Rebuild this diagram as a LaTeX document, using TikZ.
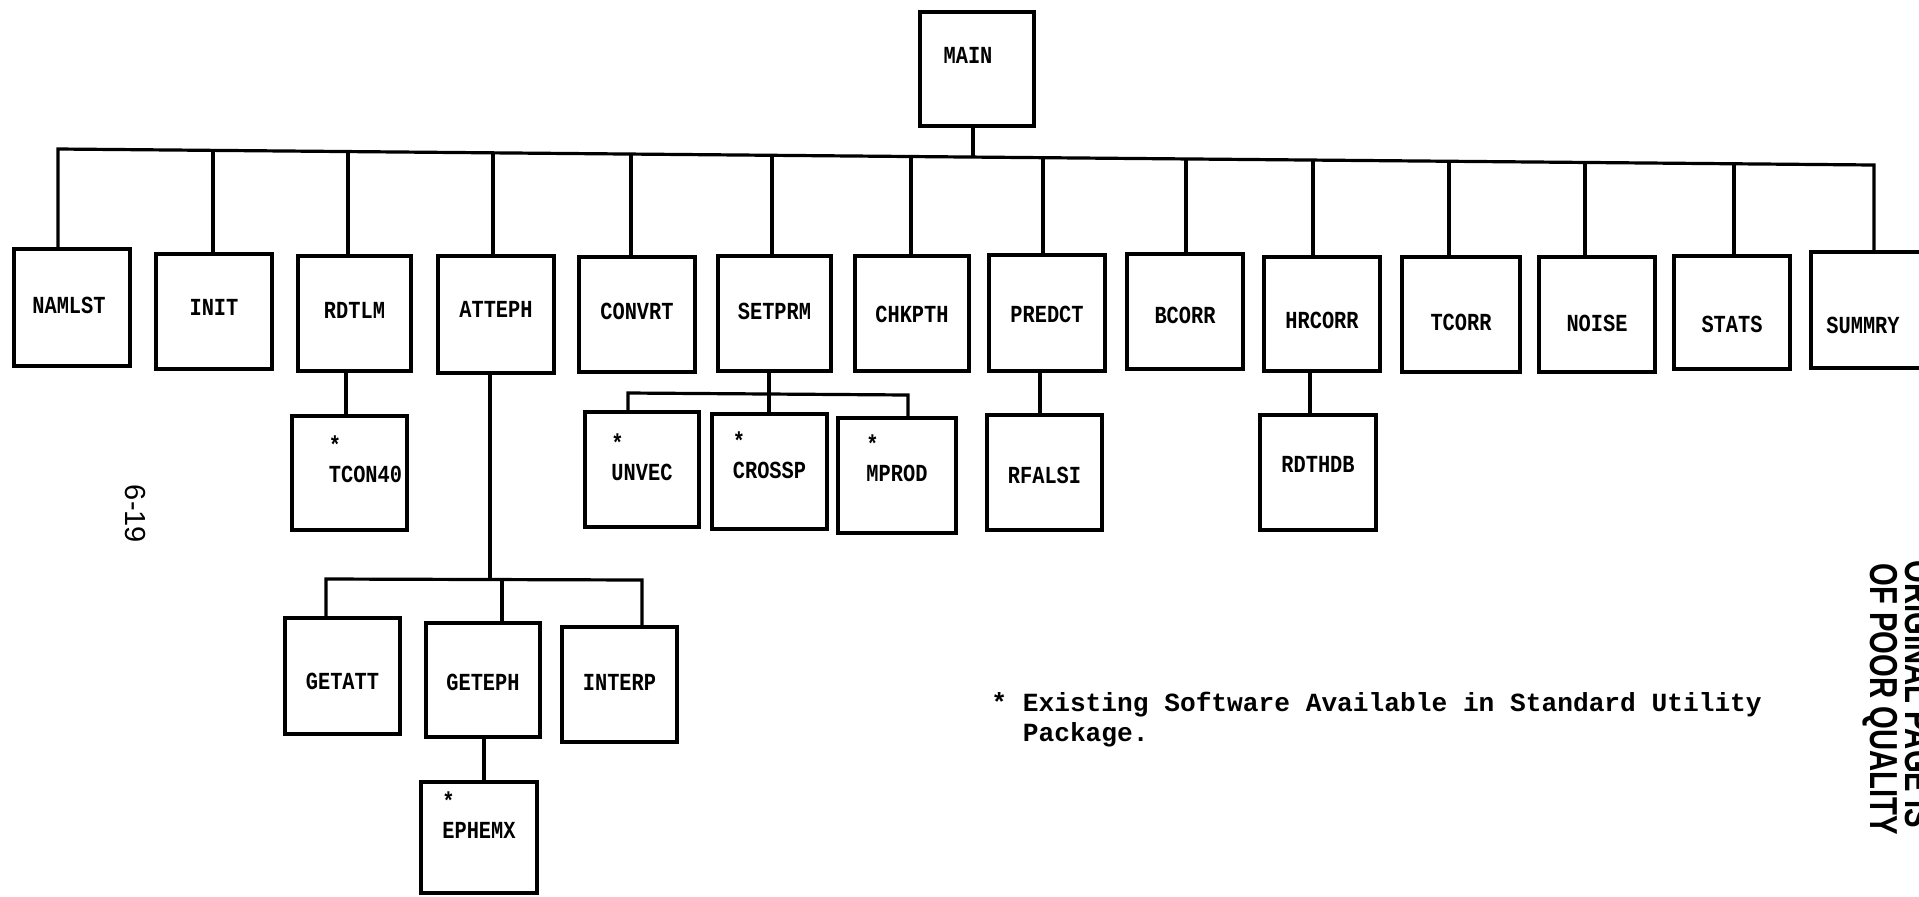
\documentclass[tikz,border=0pt]{standalone}
\usepackage{fontspec}
\usetikzlibrary{fit,calc}
\newfontfamily\lblfont{Liberation Mono}[FakeStretch=0.83]
\newfontfamily\notefont{Liberation Mono}
\newfontfamily\stampfont{Liberation Sans}[FakeStretch=0.75]
\newfontfamily\pgnumfont{Liberation Sans}
% shift a label inside its box: #1 right, #2 up
\newcommand{\mv}[3]{\raisebox{#2}[\height][\depth]{\hspace*{#1}#3\hspace*{-#1}}}
% label with a star above it
\newcommand{\starlbl}[1]{\vbox{\baselineskip=14.5pt\hbox{*}\hbox{#1}}}
\begin{document}
\begin{tikzpicture}[x=0.5pt,y=-0.5pt,
  box/.style={draw, line width=1.8pt, inner sep=0pt,
    font={\lblfont\bfseries\fontsize{12.25}{12}\selectfont}},
  conn/.style={line width=1.6pt},
  notetext/.style={font={\notefont\bfseries\fontsize{13.1}{15}\selectfont}, inner sep=0pt},
  stamptext/.style={font={\stampfont\bfseries\fontsize{19.5}{20}\selectfont}, rotate=-90, anchor=base west, inner sep=0pt},
  pagenum/.style={font={\pgnumfont\fontsize{14.5}{15}\selectfont}, rotate=-90, inner sep=0pt}]
\useasboundingbox (0,0) rectangle (1919,896);

% top
\node[box, fit={(920,12)(1034,126)}] (MAIN) {\mv{-4.5pt}{3pt}{MAIN}};

% first level
\node[box, fit={(14,249)(130,366)}] (NAMLST) {\mv{-1.5pt}{-3pt}{NAMLST}};
\node[box, fit={(156,254)(272,369)}] (INIT) {\mv{0pt}{-2pt}{INIT}};
\node[box, fit={(298,256)(411,371)}] (RDTLM) {\mv{0pt}{-2.5pt}{RDTLM}};
\node[box, fit={(438,256)(554,373)}] (ATTEPH) {\mv{0pt}{-1.5pt}{ATTEPH}};
\node[box, fit={(579,257)(695,372)}] (CONVRT) {\mv{0pt}{-2.5pt}{CONVRT}};
\node[box, fit={(718,256)(831,371)}] (SETPRM) {\mv{0pt}{-3pt}{SETPRM}};
\node[box, fit={(855,256)(969,371)}] (CHKPTH) {\mv{0pt}{-4.5pt}{CHKPTH}};
\node[box, fit={(989,255)(1105,371)}] (PREDCT) {\mv{0pt}{-5pt}{PREDCT}};
\node[box, fit={(1127,254)(1243,369)}] (BCORR) {\mv{0pt}{-6pt}{BCORR}};
\node[box, fit={(1264,257)(1380,371)}] (HRCORR) {\mv{0pt}{-7.5pt}{HRCORR}};
\node[box, fit={(1402,257)(1520,372)}] (TCORR) {\mv{0pt}{-8pt}{TCORR}};
\node[box, fit={(1539,257)(1655,372)}] (NOISE) {\mv{0pt}{-8.5pt}{NOISE}};
\node[box, fit={(1674,256)(1790,369)}] (STATS) {\mv{0pt}{-10pt}{STATS}};
\node[box, fit={(1811,252)(1927,368)}] (SUMMRY) {\mv{-3pt}{-12pt}{SUMMRY}};

% second level
\node[box, fit={(292,416)(407,530)}] (TCON40) {\mv{8pt}{-5pt}{\starlbl{TCON40}}};
\node[box, fit={(585,412)(699,527)}] (UNVEC) {\mv{0pt}{-5.5pt}{\starlbl{UNVEC}}};
\node[box, fit={(712,414)(827,529)}] (CROSSP) {\mv{0pt}{-3.7pt}{\starlbl{CROSSP}}};
\node[box, fit={(838,418)(956,533)}] (MPROD) {\mv{0pt}{-3pt}{\starlbl{MPROD}}};
\node[box, fit={(987,415)(1102,530)}] (RFALSI) {\mv{0pt}{-5.5pt}{RFALSI}};
\node[box, fit={(1260,415)(1376,530)}] (RDTHDB) {RDTHDB};

% third level
\node[box, fit={(285,618)(400,734)}] (GETATT) {\mv{0pt}{-7pt}{GETATT}};
\node[box, fit={(426,623)(540,737)}] (GETEPH) {\mv{0pt}{-5.5pt}{GETEPH}};
\node[box, fit={(562,627)(677,742)}] (INTERP) {\mv{0pt}{-3pt}{INTERP}};
\node[box, fit={(421,782)(537,893)}] (EPHEMX) {\mv{0pt}{-0.5pt}{\starlbl{EPHEMX}}};

% main bus
\coordinate (bL) at (58,149);
\coordinate (bR) at (1874,165);
\coordinate (bMAIN) at (973,157.1);
\coordinate (bINIT) at (213,150.4);
\coordinate (bRDTLM) at (348,151.6);
\coordinate (bATTEPH) at (493,152.8);
\coordinate (bCONVRT) at (631,154.0);
\coordinate (bSETPRM) at (772,155.3);
\coordinate (bCHKPTH) at (911,156.5);
\coordinate (bPREDCT) at (1043,157.7);
\coordinate (bBCORR) at (1186,158.9);
\coordinate (bHRCORR) at (1313,160.1);
\coordinate (bTCORR) at (1449,161.3);
\coordinate (bNOISE) at (1585,162.5);
\coordinate (bSTATS) at (1734,163.8);

\draw[conn] (NAMLST.north -| bL) -- (bL) -- (bR) -- (SUMMRY.north -| bR);
\draw[conn] (MAIN.south -| bMAIN) -- (bMAIN);
\foreach \n in {INIT,RDTLM,ATTEPH,CONVRT,SETPRM,CHKPTH,PREDCT,BCORR,HRCORR,TCORR,NOISE,STATS}
  \draw[conn] (b\n) -- (\n.north -| b\n);

% second-level connectors
\coordinate (kR) at (346,0);
\draw[conn] (RDTLM.south -| kR) -- (TCON40.north -| kR);
\coordinate (kS) at (769,0);
\draw[conn] (SETPRM.south -| kS) -- (CROSSP.north -| kS);
\coordinate (sU) at (628,393);
\coordinate (sM) at (908,395);
\draw[conn] (UNVEC.north -| sU) -- (sU) -- (sM) -- (MPROD.north -| sM);
\coordinate (kP) at (1040,0);
\draw[conn] (PREDCT.south -| kP) -- (RFALSI.north -| kP);
\coordinate (kH) at (1310,0);
\draw[conn] (HRCORR.south -| kH) -- (RDTHDB.north -| kH);

% third-level connectors
\coordinate (aJ) at (490,579);
\draw[conn] (ATTEPH.south -| aJ) -- (aJ);
\coordinate (aL) at (326,579);
\coordinate (aR) at (642,580);
\coordinate (aM) at (502,579.5);
\draw[conn] (GETATT.north -| aL) -- (aL) -- (aR) -- (INTERP.north -| aR);
\draw[conn] (aM) -- (GETEPH.north -| aM);
\coordinate (kG) at (484,0);
\draw[conn] (GETEPH.south -| kG) -- (EPHEMX.north -| kG);

% texts
\node[notetext, anchor=north west, align=left] (note) at (991,692)
  {* Existing Software Available in Standard Utility\\\phantom{**}Package.};
\node[pagenum] (pg) at (135,514) {6-19};
\node[stamptext] (stampA) at (1905,560) {ORIGINAL PAGE IS};
\node[stamptext] (stampB) at (1870,563) {OF POOR QUALITY};
\end{tikzpicture}
\end{document}
